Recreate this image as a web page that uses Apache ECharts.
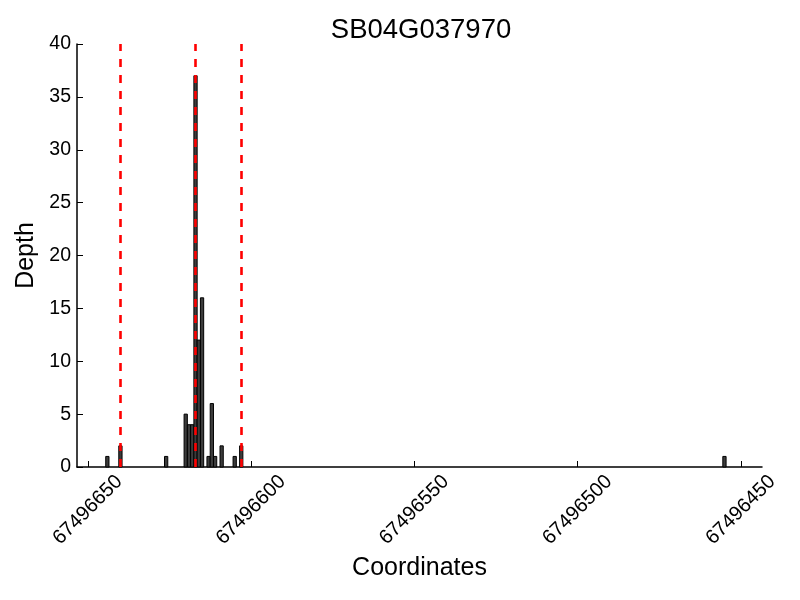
<!DOCTYPE html>
<html>
<head>
<meta charset="utf-8">
<script src="https://cdn.jsdelivr.net/npm/echarts@6/dist/echarts.min.js"></script>
<style>html,body{margin:0;padding:0;background:#fff;}#c{width:800px;height:600px;}</style>
</head>
<body>
<div id="c"></div>
<script>
const titleText = 'SB04G037970';
const coordinates = [67496644, 67496640, 67496626, 67496620, 67496619, 67496618, 67496617, 67496616, 67496615, 67496613, 67496612, 67496611, 67496609, 67496605, 67496603, 67496455];
const depths = [1, 2, 1, 5, 4, 4, 37, 12, 16, 1, 6, 1, 2, 1, 2, 1];
const markerLines = [67496640, 67496617, 67496603];
const xTicks = [67496650, 67496600, 67496550, 67496500, 67496450];
const yTicks = [0, 5, 10, 15, 20, 25, 30, 35, 40];

const FONT = 'Liberation Sans';
const chart = echarts.init(document.getElementById('c'), null, {renderer: 'canvas'});
chart.setOption({
  animation: false,
  backgroundColor: '#ffffff',
  title: {
    text: titleText, left: 416, top: 11, textAlign: 'center',
    textStyle: {fontFamily: FONT, fontSize: 27.5, fontWeight: 'normal', color: '#000'}
  },
  grid: {left: 77, right: 38, top: 44, bottom: 133, containLabel: false},
  xAxis: {
    type: 'value', inverse: true,
    min: 67496443.5, max: 67496653.3,
    name: 'Coordinates', nameLocation: 'middle', nameGap: 84,
    nameTextStyle: {fontFamily: FONT, fontSize: 25, color: '#000'},
    axisLine: {show: true, lineStyle: {color: '#000', width: 1.5}},
    axisTick: {show: true, inside: true, length: 6, customValues: xTicks, lineStyle: {color: '#000', width: 1}},
    axisLabel: {
      customValues: xTicks, rotate: 45, align: 'center', verticalAlign: 'middle', margin: 43,
      fontFamily: FONT, fontSize: 20, color: '#000',
      formatter: v => String(Math.round(v))
    },
    splitLine: {show: false}
  },
  yAxis: {
    type: 'value', min: yTicks[0], max: yTicks[yTicks.length - 1], interval: 5,
    name: 'Depth', nameLocation: 'middle', nameGap: 38, nameRotate: 90,
    nameTextStyle: {fontFamily: FONT, fontSize: 25, color: '#000'},
    axisLine: {show: true, lineStyle: {color: '#000', width: 1.5}},
    axisTick: {show: true, inside: true, length: 6, lineStyle: {color: '#000', width: 1}},
    axisLabel: {fontFamily: FONT, fontSize: 19.5, color: '#000', margin: 6},
    splitLine: {show: false}
  },
  series: [{
    type: 'custom',
    data: coordinates.map((c, i) => [c, depths[i]]),
    encode: {x: 0, y: 1},
    renderItem: function (params, api) {
      const x = api.value(0), y = api.value(1);
      const p1 = api.coord([x + 0.5, y]);
      const p2 = api.coord([x - 0.5, 0]);
      const left = Math.min(p1[0], p2[0]);
      return {
        type: 'rect',
        shape: {x: left, y: p1[1], width: Math.abs(p2[0] - p1[0]), height: p2[1] - p1[1]},
        style: {fill: '#3c3c3c', stroke: '#000000', lineWidth: 1}
      };
    },
    markLine: {
      silent: true, symbol: ['none', 'none'], label: {show: false},
      lineStyle: {color: '#ff0000', width: 2.6, type: [8, 8]},
      data: markerLines.map(v => ({xAxis: v}))
    },
    z: 2
  }]
});
</script>
</body>
</html>
